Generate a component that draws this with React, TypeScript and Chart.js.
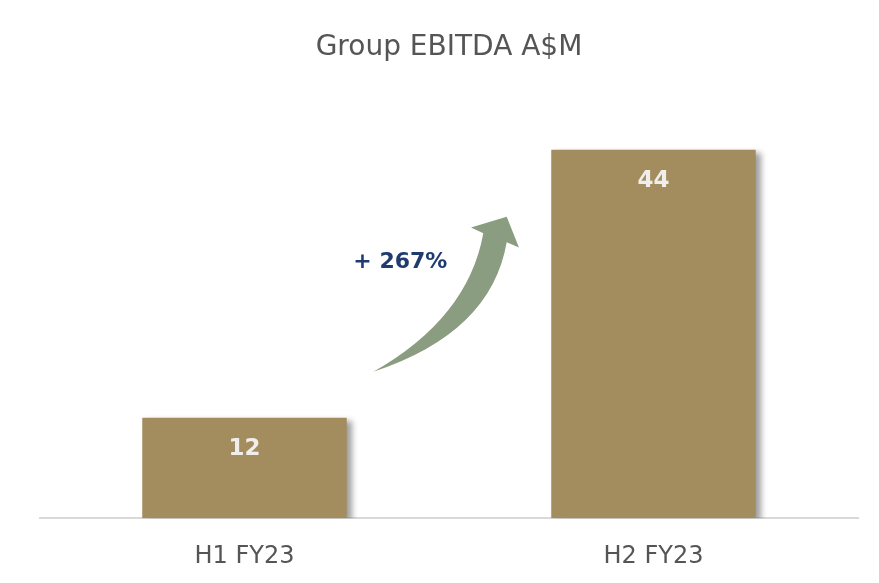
import React, { useEffect, useRef } from "react";
import { Chart, registerables } from "chart.js";

Chart.register(...registerables);

const categories = ["H1 FY23", "H2 FY23"];
const ebitda = [12, 44];
const titleText = "Group EBITDA A$M";
const growthLabel = "+ 267%";
// arrow annotation anchor points in data space: [category index fraction, value]
const arrowTail = [0.3149, 17.49];
const arrowLeftCtrl = [0.5465, 23.91];
const arrowLeftEnd = [0.5839, 34.04];
const arrowHeadLeft = [0.5538, 34.71];
const arrowTip = [0.6411, 36.02];
const arrowHeadRight = [0.6711, 32.32];
const arrowRightEnd = [0.6411, 32.96];
const arrowRightCtrl = [0.6027, 22.12];
const growthLabelPos = [0.381, 30.6];

const BAR = "#A38D5F";
const FONT = "'DejaVu Sans', 'Noto Sans', sans-serif";

const overlayPlugin = {
  id: "overlay",
  beforeDatasetsDraw(chart: any) {
    const ctx = chart.ctx;
    ctx.save();
    ctx.shadowColor = "rgba(0,0,0,0.38)";
    ctx.shadowBlur = 6;
    ctx.shadowOffsetX = 5;
    ctx.shadowOffsetY = 3;
  },
  afterDatasetsDraw(chart: any) {
    const ctx = chart.ctx;
    ctx.restore();
    const xs = chart.scales.x;
    const ys = chart.scales.y;
    const P = (p: number[]) => [
      xs.getPixelForValue(0) + p[0] * (xs.getPixelForValue(1) - xs.getPixelForValue(0)),
      ys.getPixelForValue(p[1]),
    ];
    // value labels
    const meta = chart.getDatasetMeta(0);
    ctx.save();
    ctx.fillStyle = "#F0EEEA";
    ctx.font = "bold 23px " + FONT;
    ctx.textAlign = "center";
    ctx.textBaseline = "middle";
    meta.data.forEach((el: any, i: number) => {
      ctx.fillText(String(ebitda[i]), el.x, el.y + 31);
    });
    // arrow
    const t = P(arrowTail);
    const lc = P(arrowLeftCtrl);
    const le = P(arrowLeftEnd);
    const hl = P(arrowHeadLeft);
    const tp = P(arrowTip);
    const hr = P(arrowHeadRight);
    const re = P(arrowRightEnd);
    const rc = P(arrowRightCtrl);
    ctx.beginPath();
    ctx.moveTo(t[0], t[1]);
    ctx.quadraticCurveTo(lc[0], lc[1], le[0], le[1]);
    ctx.lineTo(hl[0], hl[1]);
    ctx.lineTo(tp[0], tp[1]);
    ctx.lineTo(hr[0], hr[1]);
    ctx.lineTo(re[0], re[1]);
    ctx.quadraticCurveTo(rc[0], rc[1], t[0], t[1]);
    ctx.closePath();
    ctx.fillStyle = "#8B9D80";
    ctx.fill();
    // growth label
    const g = P(growthLabelPos);
    ctx.fillStyle = "#1F3B70";
    ctx.font = "bold 22px " + FONT;
    ctx.fillText(growthLabel, g[0], g[1]);
    ctx.restore();
  },
};

export default function App() {
  const ref = useRef<HTMLCanvasElement | null>(null);
  useEffect(() => {
    if (!ref.current) return;
    const chart = new Chart(ref.current, {
      type: "bar",
      data: {
        labels: categories,
        datasets: [
          {
            data: ebitda,
            backgroundColor: BAR,
            borderWidth: 0,
            barPercentage: 0.5,
            categoryPercentage: 1,
          },
        ],
      },
      options: {
        animation: false,
        responsive: false,
        layout: { padding: { left: 40, right: 21, top: 0, bottom: -12 } },
        plugins: {
          legend: { display: false },
          tooltip: { enabled: false },
          title: {
            display: true,
            text: titleText,
            color: "#555555",
            font: { size: 28, weight: "normal", family: FONT, lineHeight: 1.2 },
            padding: { top: 31, bottom: 35 },
          },
        },
        scales: {
          x: {
            grid: { display: false, drawTicks: false },
            border: { display: true, color: "#D9D9D9", width: 2 },
            ticks: {
              color: "#555555",
              padding: 24,
              font: { size: 24, weight: "normal", family: FONT },
            },
          },
          y: {
            display: false,
            min: 0,
            max: 50,
          },
        },
      },
      plugins: [overlayPlugin],
    });
    return () => chart.destroy();
  }, []);
  return (
    <div style={{ position: "fixed", left: 0, top: 0, width: 879, height: 583, background: "#fff" }}>
      <canvas ref={ref} width={879} height={583} style={{ display: "block" }} />
    </div>
  );
}
